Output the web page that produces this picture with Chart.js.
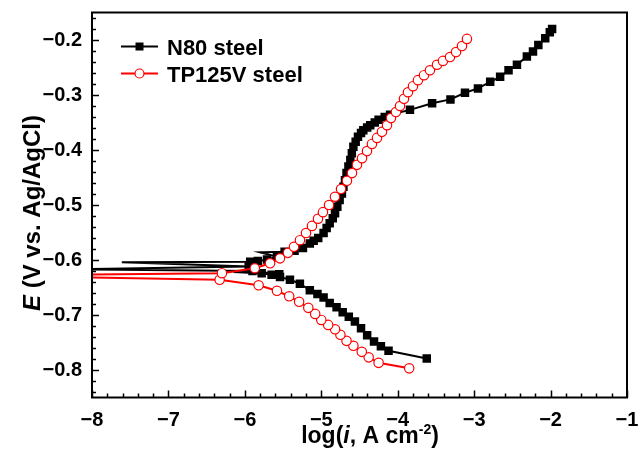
<!DOCTYPE html>
<html>
<head>
<meta charset="utf-8">
<script src="https://cdn.jsdelivr.net/npm/chart.js@4.4.1/dist/chart.umd.min.js"></script>
<style>
  body { margin: 0; background: #fff; }
  #wrap { width: 638px; height: 451px; }
</style>
</head>
<body>
<div id="wrap"><canvas id="tafel" width="638" height="451"></canvas></div>
<script>
// axis ticks
var xTicks = [-8, -7, -6, -5, -4, -3, -2, -1];
var yTicks = [-0.8, -0.7, -0.6, -0.5, -0.4, -0.3, -0.2];
var seriesNames = ['N80 steel', 'TP125V steel'];

// N80 steel, scan from cathodic end to anodic end
var n80LogI = [-3.62, -4.12, -4.22, -4.31, -4.40, -4.48, -4.56, -4.64, -4.72, -4.80,
  -4.89, -4.97, -5.05, -5.15, -5.28, -5.41, -5.54, -5.65, -5.78, -6.15,
  -5.55, -5.90, -8.40, -5.95, -7.61, -5.93, -5.83, -5.71,
  -5.58, -5.80, -5.48, -5.35, -5.24, -5.15, -5.10, -5.04, -4.97, -4.93,
  -4.89, -4.85, -4.82, -4.79, -4.76, -4.73, -4.71, -4.69, -4.67, -4.645,
  -4.62, -4.60, -4.58, -4.55, -4.52, -4.48, -4.45, -4.40, -4.36, -4.30,
  -4.25, -4.17, -4.10, -3.84, -3.55, -3.31, -3.12, -2.95, -2.79, -2.66,
  -2.55, -2.44, -2.31, -2.23, -2.16, -2.07, -2.01, -1.98];
var n80E = [-0.779, -0.765, -0.757, -0.748, -0.737, -0.724, -0.712, -0.703, -0.695, -0.686,
  -0.678, -0.668, -0.662, -0.655, -0.643, -0.636, -0.631, -0.627, -0.624, -0.622,
  -0.626, -0.620, -0.617, -0.612, -0.604, -0.603, -0.602, -0.599,
  -0.594, -0.586, -0.585, -0.583, -0.578, -0.570, -0.565, -0.560, -0.551, -0.542,
  -0.533, -0.524, -0.515, -0.503, -0.491, -0.479, -0.467, -0.455, -0.442, -0.430,
  -0.418, -0.406, -0.394, -0.385, -0.376, -0.369, -0.364, -0.359, -0.355, -0.350,
  -0.345, -0.340, -0.336, -0.327, -0.315, -0.308, -0.296, -0.288, -0.276, -0.267,
  -0.255, -0.245, -0.230, -0.221, -0.209, -0.197, -0.186, -0.180];

// TP125V steel
var tpLogI = [-3.85, -4.25, -4.38, -4.47, -4.58, -4.67, -4.75, -4.82, -4.91, -5.00,
  -5.08, -5.17, -5.29, -5.42, -5.58, -5.82, -6.33, -8.40, -8.40, -6.30,
  -5.87, -5.67, -5.54, -5.436, -5.357, -5.279, -5.200, -5.122, -5.043, -4.978,
  -4.899, -4.821, -4.742, -4.664, -4.598, -4.533, -4.467, -4.402, -4.337, -4.271,
  -4.206, -4.140, -4.088, -4.023, -3.970, -3.918, -3.866, -3.800, -3.735, -3.656,
  -3.578, -3.486, -3.408, -3.316, -3.237, -3.159, -3.094];
var tpE = [-0.797, -0.787, -0.777, -0.767, -0.756, -0.747, -0.736, -0.726, -0.718, -0.709,
  -0.698, -0.687, -0.676, -0.666, -0.656, -0.646, -0.636, -0.631, -0.627, -0.624,
  -0.615, -0.606, -0.597, -0.587, -0.576, -0.564, -0.551, -0.538, -0.525, -0.513,
  -0.500, -0.485, -0.471, -0.456, -0.442, -0.427, -0.415, -0.402, -0.389, -0.378,
  -0.367, -0.355, -0.342, -0.331, -0.320, -0.307, -0.295, -0.284, -0.273, -0.264,
  -0.255, -0.245, -0.238, -0.231, -0.222, -0.211, -0.198];

function toPoints(xs, ys) {
  return xs.map(function (x, i) { return { x: x, y: ys[i] }; });
}

var FONT = "'Liberation Sans', Arial, sans-serif";

// frame, inward ticks, legend, axis titles
var decorPlugin = {
  id: 'decor',
  afterDatasetsDraw: function (chart) {
    var ctx = chart.ctx, a = chart.chartArea;
    var xs = chart.scales.x, ys = chart.scales.y;
    ctx.save();
    ctx.strokeStyle = '#000';
    ctx.lineWidth = 1.5;
    ctx.beginPath();
    for (var v = -80; v <= -10; v += 2) {
      var px = Math.round(xs.getPixelForValue(v / 10)) + 0.5;
      var len = (v % 10 === 0) ? 7 : 4;
      ctx.moveTo(px, a.bottom);
      ctx.lineTo(px, a.bottom - len);
    }
    for (var w = -84; w <= -16; w += 2) {
      var py = Math.round(ys.getPixelForValue(w / 100)) + 0.5;
      var l2 = (w % 10 === 0) ? 7 : 4;
      ctx.moveTo(a.left, py);
      ctx.lineTo(a.left + l2, py);
    }
    ctx.stroke();
    ctx.lineWidth = 2;
    ctx.strokeRect(a.left, a.top, a.right - a.left, a.bottom - a.top);

    // legend
    chart.data.datasets.forEach(function (ds, i) {
      var y = a.top + 34 + i * 27;
      var x0 = a.left + 29, x1 = a.left + 66, xm = (x0 + x1) / 2;
      ctx.strokeStyle = ds.borderColor;
      ctx.lineWidth = 2;
      ctx.beginPath();
      ctx.moveTo(x0, y); ctx.lineTo(x1, y);
      ctx.stroke();
      if (ds.pointStyle === 'rect') {
        ctx.fillStyle = ds.pointBackgroundColor;
        ctx.fillRect(xm - 4, y - 4, 8, 8);
      } else {
        ctx.fillStyle = '#fff';
        ctx.lineWidth = 1.2;
        ctx.beginPath();
        ctx.arc(xm, y, 4.5, 0, Math.PI * 2);
        ctx.fill(); ctx.stroke();
      }
      ctx.fillStyle = '#000';
      ctx.font = 'bold 22px ' + FONT;
      ctx.textAlign = 'left';
      ctx.textBaseline = 'alphabetic';
      ctx.fillText(ds.label, a.left + 75, y + 8);
    });

    // axis titles with italic symbol
    function runs(parts, x, y) {
      var total = 0;
      parts.forEach(function (p) { ctx.font = p.f; p.w = ctx.measureText(p.t).width; total += p.w; });
      var cx = x - total / 2;
      parts.forEach(function (p) {
        ctx.font = p.f;
        ctx.fillText(p.t, cx, y + (p.dy || 0));
        cx += p.w;
      });
    }
    ctx.fillStyle = '#000';
    ctx.textAlign = 'left';
    ctx.textBaseline = 'alphabetic';
    var B = 'bold 23px ' + FONT, BI = 'italic bold 23px ' + FONT, S = 'bold 14px ' + FONT;
    runs([{ t: 'log(', f: B }, { t: 'i', f: BI }, { t: ', A cm', f: B },
          { t: '-2', f: S, dy: -9 }, { t: ')', f: B }], 370, 443);
    ctx.translate(40, 213);
    ctx.rotate(-Math.PI / 2);
    var B2 = 'bold 24px ' + FONT, BI2 = 'italic bold 24px ' + FONT;
    runs([{ t: 'E', f: BI2 }, { t: ' (V vs. Ag/AgCl)', f: B2 }], 0, 0);
    ctx.restore();
  }
};

// no marker on the noisy excursions toward low current near E_corr
function markerSize(size) {
  return function (ctx) {
    var d = ctx.dataset.data, i = ctx.dataIndex;
    var p = d[i], prev = d[i - 1], next = d[i + 1];
    if (p && prev && next && p.x < Math.min(prev.x, next.x) - 0.15) return 0;
    return size;
  };
}

function noPad(s) {
  s.paddingTop = 0; s.paddingBottom = 0; s.paddingLeft = 0; s.paddingRight = 0;
}

var chart = new Chart(document.getElementById('tafel'), {
  type: 'scatter',
  data: {
    datasets: [
      {
        label: seriesNames[0],
        data: toPoints(n80LogI, n80E),
        showLine: true,
        borderColor: '#000',
        borderWidth: 2,
        pointStyle: 'rect',
        pointRadius: markerSize(6),
        pointBackgroundColor: '#000',
        pointBorderColor: '#000',
        pointBorderWidth: 0,
        clip: 0,
        order: 2
      },
      {
        label: seriesNames[1],
        data: toPoints(tpLogI, tpE),
        showLine: true,
        borderColor: '#ff0000',
        borderWidth: 2,
        pointStyle: 'circle',
        pointRadius: markerSize(4.7),
        pointBackgroundColor: '#fff',
        pointBorderColor: '#ff0000',
        pointBorderWidth: 1.2,
        clip: 0,
        order: 1
      }
    ]
  },
  options: {
    responsive: false,
    animation: false,
    devicePixelRatio: 1,
    layout: { padding: { top: 12.5, right: 11, left: 0, bottom: 0 } },
    plugins: { legend: { display: false }, tooltip: { enabled: false } },
    scales: {
      x: {
        type: 'linear', min: -8, max: -1,
        grid: { display: false, drawTicks: false },
        border: { display: false },
        afterBuildTicks: function (s) { s.ticks = xTicks.map(function (v) { return { value: v }; }); },
        afterFit: function (s) { s.height = 53.5; noPad(s); },
        ticks: {
          autoSkip: false, maxRotation: 0, padding: 11, color: '#000',
          font: { family: FONT, size: 20, weight: 'bold' },
          callback: function (v) { return String(v).replace('-', '\u2212'); }
        }
      },
      y: {
        type: 'linear', min: -0.85, max: -0.15,
        grid: { display: false, drawTicks: false },
        border: { display: false },
        afterBuildTicks: function (s) { s.ticks = yTicks.map(function (v) { return { value: v }; }); },
        afterFit: function (s) { s.width = 92; noPad(s); },
        ticks: {
          autoSkip: false, padding: 10, color: '#000',
          font: { family: FONT, size: 20, weight: 'bold' },
          callback: function (v) { return v.toFixed(1).replace('-', '\u2212'); }
        }
      }
    }
  },
  plugins: [decorPlugin]
});
</script>
</body>
</html>
